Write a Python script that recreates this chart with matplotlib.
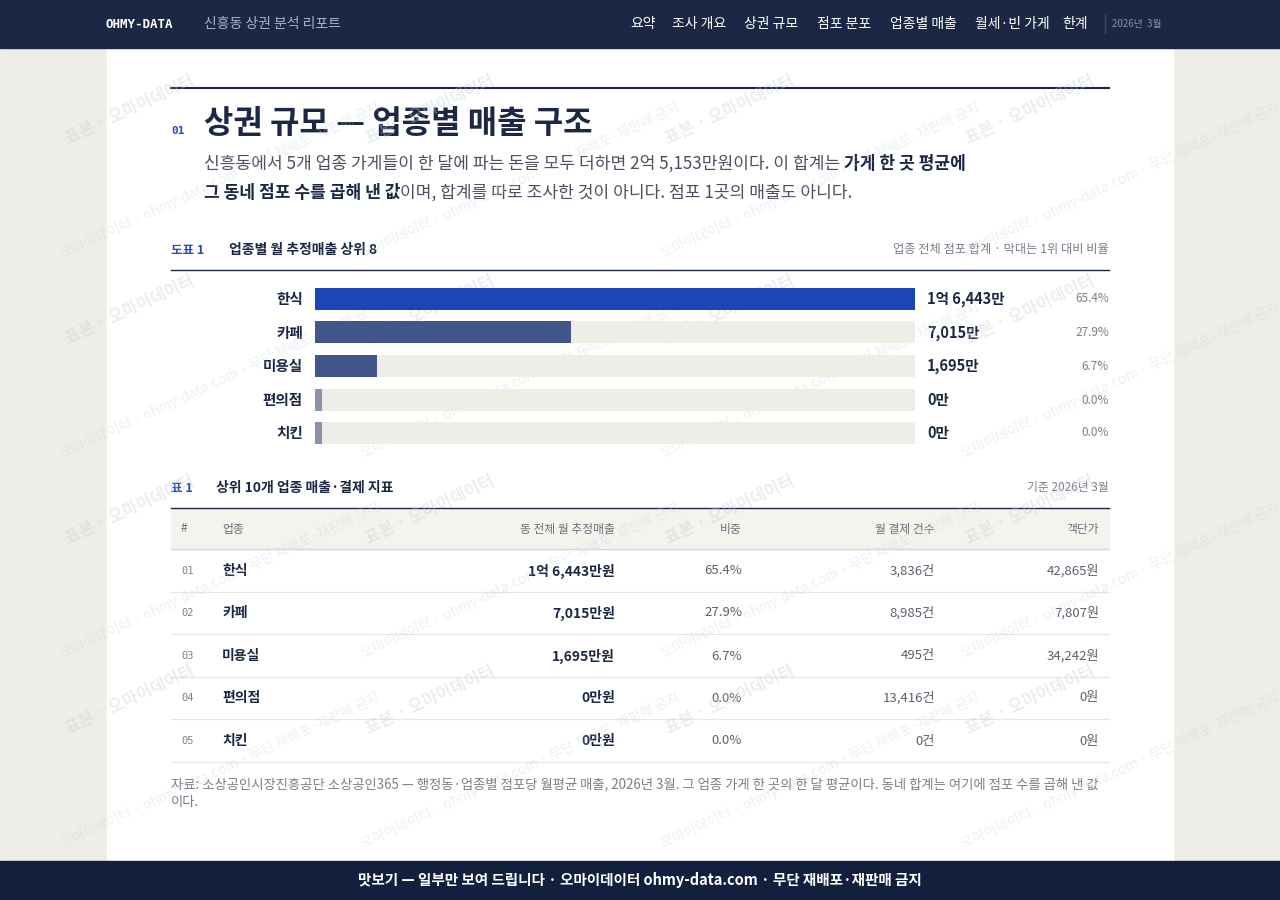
import matplotlib
matplotlib.use("Agg")
import matplotlib.pyplot as plt
from matplotlib.patches import Rectangle

plt.rcParams['font.family'] = ['Noto Sans CJK KR', 'DejaVu Sans']

# ---- data ----
categories = ["한식", "카페", "미용실", "편의점", "치킨"]
sales_man = [16443, 7015, 1695, 0, 0]          # 만원
sales_labels = ["1억 6,443만", "7,015만", "1,695만", "0만", "0만"]
share_pct = [65.4, 27.9, 6.7, 0.0, 0.0]
tx_counts = ["3,836건", "8,985건", "495건", "13,416건", "0건"]
unit_price = ["42,865원", "7,807원", "34,242원", "0원", "0원"]
table_sales = ["1억 6,443만원", "7,015만원", "1,695만원", "0만원", "0만원"]
nav_items = ["요약", "조사 개요", "상권 규모", "점포 분포", "업종별 매출", "월세·빈 가게", "한계"]

NAVY = "#1b2744"
fig = plt.figure(figsize=(12.8, 9), dpi=100)
fig.patch.set_facecolor("#efede7")
ax = fig.add_axes([0, 0, 1, 1])
ax.set_xlim(0, 1280); ax.set_ylim(900, 0); ax.axis("off")
renderer = fig.canvas.get_renderer()

def run(x, y, parts, fs):
    """draw consecutive text runs [(text, bold, color)] starting at x"""
    for t, b, c in parts:
        tx = ax.text(x, y, t, fontsize=fs, fontweight="bold" if b else "normal", color=c, va="center")
        bb = tx.get_window_extent(renderer=renderer)
        x += bb.width
    return x

# page
ax.add_patch(Rectangle((107, 48), 1066, 813, color="white", zorder=0))
# header
ax.add_patch(Rectangle((0, 0), 1280, 48, color=NAVY, zorder=6))
ax.text(106, 24, "OHMY-DATA", color="white", fontsize=9, fontweight="bold", family="DejaVu Sans Mono", va="center", zorder=7)
ax.text(204, 24, "신흥동 상권 분석 리포트", color="#aab3c8", fontsize=10, va="center", zorder=7)
xs = [630, 672, 744, 817, 890, 975, 1062]
for x, t in zip(xs, nav_items):
    ax.text(x, 24, t, color="white", fontsize=10, va="center", ha="left", zorder=7)
ax.plot([1105, 1105], [15, 33], color="#3a4766", lw=1, zorder=7)
ax.text(1112, 24, "2026년  3월", color="#8a93a8", fontsize=7, va="center", zorder=7)
# footer
ax.add_patch(Rectangle((0, 861), 1280, 39, color="#141f3d", zorder=6))
ax.text(640, 880, "맛보기 — 일부만 보여 드립니다 · 오마이데이터 ohmy-data.com · 무단 재배포·재판매 금지",
        color="white", fontsize=10.5, fontweight="bold", ha="center", va="center", zorder=7)

# section title
ax.plot([171, 1109], [88, 88], color=NAVY, lw=1.5)
ax.text(171, 131, "01", color="#2b4bb8", fontsize=8, fontweight="bold", family="DejaVu Sans Mono", va="center")
ax.text(204, 124, "상권 규모 — 업종별 매출 구조", color=NAVY, fontsize=23, fontweight="bold", va="center")
GR = "#4a5060"
run(204, 164, [("신흥동에서 5개 업종 가게들이 한 달에 파는 돈을 모두 더하면 2억 5,153만원이다. 이 합계는 ", False, GR),
               ("가게 한 곳 평균에", True, NAVY)], 12.3)
run(204, 193, [("그 동네 점포 수를 곱해 낸 값", True, NAVY),
               ("이며, 합계를 따로 조사한 것이 아니다. 점포 1곳의 매출도 아니다.", False, GR)], 12.3)

# chart header
ax.text(171, 250, "도표 1", color="#2b4bb8", fontsize=9, fontweight="bold", va="center")
ax.text(229, 250, "업종별 월 추정매출 상위 8", color=NAVY, fontsize=10, fontweight="bold", va="center")
ax.text(1109, 250, "업종 전체 점포 합계 · 막대는 1위 대비 비율", color="#7a7f8a", fontsize=8.8, va="center", ha="right")
ax.plot([171, 1109], [270, 270], color=NAVY, lw=1)

# bars axes: x 315..915, y 282..450
bax = fig.add_axes([315/1280, 1-450/900, 600/1280, 168/900])
bax.set_xlim(0, max(sales_man)); bax.set_ylim(len(categories)-0.5, -0.5); bax.axis("off")
colors = ["#1c45b5", "#42568c", "#42568c", "#8a93a8", "#8a93a8"]
mx = max(sales_man)
for i, (c, v) in enumerate(zip(categories, sales_man)):
    bax.barh(i, mx, height=0.66, color="#efede7")
    bax.barh(i, max(v, mx*0.012), height=0.66, color=colors[i])
rows_y = [299, 333, 366, 400, 433]
for y, c, l, p in zip(rows_y, categories, sales_labels, share_pct):
    ax.text(303, y, c, ha="right", va="center", fontsize=10.5, fontweight="bold", color=NAVY)
    ax.text(927, y, l, ha="left", va="center", fontsize=10.5, fontweight="bold", color=NAVY)
    ax.text(1109, y, f"{p:.1f}%", ha="right", va="center", fontsize=8.5, color="#7a7f8a")

# table
ax.text(171, 488, "표 1", color="#2b4bb8", fontsize=9, fontweight="bold", va="center")
ax.text(216, 488, "상위 10개 업종 매출·결제 지표", color=NAVY, fontsize=10, fontweight="bold", va="center")
ax.text(1109, 488, "기준 2026년 3월", color="#7a7f8a", fontsize=8.5, va="center", ha="right")
ax.plot([171, 1109], [508, 508], color=NAVY, lw=1)
ax.add_patch(Rectangle((171, 509), 938, 40, color="#f4f3ee", zorder=0.5))
hy = 529
hdr = [(181, "#", "left"), (222, "업종", "left"), (615, "동 전체 월 추정매출", "right"),
       (742, "비중", "right"), (935, "월 결제 건수", "right"), (1099, "객단가", "right")]
for x, t, ha in hdr:
    ax.text(x, hy, t, ha=ha, va="center", fontsize=8.5, color="#6a707c")
ax.plot([171, 1109], [549, 549], color="#d8d6cf", lw=1)
ty = [571, 613, 656, 698, 741]
for i, y in enumerate(ty):
    ax.text(181, y, f"{i+1:02d}", va="center", fontsize=7.5, color="#7a7f8a", family="DejaVu Sans Mono")
    ax.text(222, y, categories[i], va="center", fontsize=10, fontweight="bold", color=NAVY)
    ax.text(615, y, table_sales[i], va="center", ha="right", fontsize=10, fontweight="bold", color=NAVY)
    ax.text(742, y, f"{share_pct[i]:.1f}%", va="center", ha="right", fontsize=9.5, color="#5a606c")
    ax.text(935, y, tx_counts[i], va="center", ha="right", fontsize=9.5, color="#5a606c")
    ax.text(1099, y, unit_price[i], va="center", ha="right", fontsize=9.5, color="#5a606c")
    ax.plot([171, 1109], [y+21, y+21], color="#e8e6e0", lw=0.8)
ax.text(171, 784, "자료: 소상공인시장진흥공단 소상공인365 — 행정동·업종별 점포당 월평균 매출, 2026년 3월. 그 업종 가게 한 곳의 한 달 평균이다. 동네 합계는 여기에 점포 수를 곱해 낸 값",
        fontsize=9.6, color="#7a7f8a", va="center")
ax.text(171, 802, "이다.", fontsize=9.6, color="#7a7f8a", va="center")

# watermarks
for wy in [110, 310, 510, 700]:
    for wx in [130, 430, 730, 1030]:
        ax.text(wx, wy, "표본 · 오마이데이터", rotation=25, fontsize=12, fontweight="bold",
                color="#c8ccd4", alpha=0.35, ha="center", va="center", zorder=5)
        ax.text(wx+90, wy+70, "오마이데이터 · ohmy-data.com · 무단 재배포·재판매 금지", rotation=25,
                fontsize=10, color="#c8ccd4", alpha=0.3, ha="center", va="center", zorder=5)

fig.savefig("out.png", dpi=100)
